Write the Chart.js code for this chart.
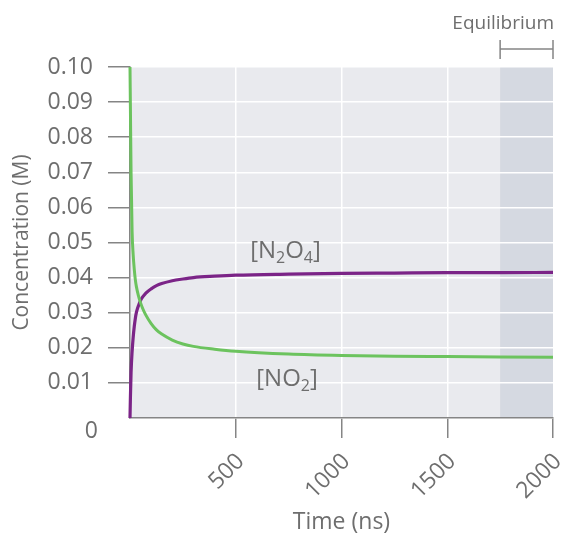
<!DOCTYPE html>
<html>
<head>
<meta charset="utf-8">
<script src="https://cdn.jsdelivr.net/npm/chart.js@4"></script>
<style>
  html, body { margin: 0; padding: 0; background: #fff; }
  #wrap { width: 561px; height: 536px; }
</style>
</head>
<body>
<div id="wrap"><canvas id="conc"></canvas></div>
<script>
// time (ns) and concentrations (M)
const time = [0, 2, 5, 10, 15, 20, 25, 30, 40, 50, 60, 75, 100, 125, 150, 200, 250, 300, 400, 500, 750, 1000, 1250, 1500, 1750, 2000];
const no2 = [0.100, 0.088, 0.070, 0.053, 0.0465, 0.0425, 0.0395, 0.0375, 0.0348, 0.0328, 0.0312, 0.0293, 0.0269, 0.0251, 0.0239, 0.0222, 0.0211, 0.0204, 0.0196, 0.0190, 0.0182, 0.0178, 0.0176, 0.0175, 0.0174, 0.0173];
const n2o4 = [0, 0.006, 0.013, 0.019, 0.023, 0.026, 0.0283, 0.0300, 0.0320, 0.0335, 0.0345, 0.0356, 0.0368, 0.0377, 0.0383, 0.0391, 0.0396, 0.0400, 0.0404, 0.0407, 0.0410, 0.0412, 0.0413, 0.0414, 0.0414, 0.0415];
const xTicks = [500, 1000, 1500, 2000];
const equilibriumStart = 1750;

const FONT = "'Open Sans', sans-serif";
const TEXT = "#6e6e6e";
const AXIS = "#858585";

function pts(ys) {
    return time.map((t, i) => ({ x: t, y: ys[i] }));
}

// subscripted label like [N2O4]
function chemLabel(ctx, parts, x, y) {
    let cx = x;
    parts.forEach(p => {
        ctx.font = p.sub ? "16px " + FONT : "24px " + FONT;
        ctx.fillText(p.t, cx, p.sub ? y + 5 : y);
        cx += ctx.measureText(p.t).width;
    });
}

const decor = {
    id: "decor",
    beforeDraw(chart) {
        const { ctx, chartArea: a, scales: { x } } = chart;
        ctx.save();
        ctx.fillStyle = "#e9eaee";
        ctx.fillRect(a.left, a.top, a.right - a.left, a.bottom - a.top);
        const ex = x.getPixelForValue(equilibriumStart);
        ctx.fillStyle = "#d5d9e1";
        ctx.fillRect(ex, a.top, a.right - ex, a.bottom - a.top);
        ctx.restore();
    },
    afterDraw(chart) {
        const { ctx, chartArea: a, scales: { x, y } } = chart;
        ctx.save();
        // equilibrium bracket
        const ex = x.getPixelForValue(equilibriumStart);
        const by = a.top - 18;
        ctx.strokeStyle = AXIS;
        ctx.lineWidth = 1.5;
        ctx.beginPath();
        ctx.moveTo(ex, by); ctx.lineTo(a.right, by);
        ctx.moveTo(ex, by - 9); ctx.lineTo(ex, by + 10);
        ctx.moveTo(a.right, by - 9); ctx.lineTo(a.right, by + 10);
        ctx.stroke();
        ctx.fillStyle = TEXT;
        ctx.font = "19px " + FONT;
        ctx.textAlign = "right";
        ctx.textBaseline = "middle";
        ctx.fillText("Equilibrium", a.right + 1, a.top - 43);

        // zero label sits below the axis
        ctx.font = "23px " + FONT;
        ctx.fillText("0", 98, y.getPixelForValue(0) + 13);

        // species labels
        ctx.textAlign = "left";
        ctx.textBaseline = "alphabetic";
        chemLabel(ctx, [{ t: "[N" }, { t: "2", sub: true }, { t: "O" }, { t: "4", sub: true }, { t: "]" }],
            x.getPixelForValue(568), y.getPixelForValue(0.0457));
        chemLabel(ctx, [{ t: "[NO" }, { t: "2", sub: true }, { t: "]" }],
            x.getPixelForValue(597), y.getPixelForValue(0.0091));
        ctx.restore();
    }
};

new Chart(document.getElementById("conc"), {
    type: "line",
    data: {
        datasets: [
            {
                label: "[NO2]",
                data: pts(no2),
                borderColor: "#6cc35e",
                borderWidth: 3,
                pointRadius: 0,
                cubicInterpolationMode: "monotone",
                clip: false,
            },
            {
                label: "[N2O4]",
                data: pts(n2o4),
                borderColor: "#7b2487",
                borderWidth: 3.2,
                pointRadius: 0,
                cubicInterpolationMode: "monotone",
                clip: false,
            },
        ],
    },
    options: {
        responsive: true,
        maintainAspectRatio: false,
        animation: false,
        layout: { padding: { top: 67, right: 8, left: 0, bottom: 0 } },
        plugins: { legend: { display: false }, tooltip: { enabled: false } },
        scales: {
            x: {
                type: "linear",
                min: 0,
                max: 2000,
                afterBuildTicks: s => { s.ticks = [0].concat(xTicks).map(v => ({ value: v })); },
                afterFit: s => { s.height = 118; s.paddingRight = 0; s.paddingLeft = 0; },
                border: { color: AXIS, width: 1.5 },
                grid: {
                    color: c => (c.tick && (c.tick.value === 0 || c.tick.value === 2000)) ? "rgba(0,0,0,0)" : "#ffffff",
                    lineWidth: 1.5,
                    tickLength: 20,
                    tickWidth: 1.5,
                    tickColor: c => (c.tick && c.tick.value === 0) ? "rgba(0,0,0,0)" : AXIS,
                },
                ticks: {
                    minRotation: 45,
                    maxRotation: 45,
                    padding: 10,
                    labelOffset: 5,
                    color: TEXT,
                    font: { family: FONT, size: 23 },
                    callback: v => v === 0 ? "" : String(v),
                },
                title: {
                    display: true,
                    text: "Time (ns)",
                    color: TEXT,
                    font: { family: FONT, size: 23 },
                    padding: { top: 0, bottom: 0 },
                },
            },
            y: {
                min: 0,
                max: 0.1,
                afterFit: s => { s.width = 130; },
                border: { color: AXIS, width: 1.5 },
                grid: {
                    color: "#ffffff",
                    lineWidth: 1.5,
                    tickLength: 22,
                    tickWidth: 1.5,
                    tickColor: c => (c.tick && c.tick.value === 0) ? "rgba(0,0,0,0)" : AXIS,
                },
                ticks: {
                    stepSize: 0.01,
                    padding: 15,
                    color: TEXT,
                    font: { family: FONT, size: 23 },
                    callback: v => v === 0 ? "" : v.toFixed(2),
                },
                title: {
                    display: true,
                    text: "Concentration (M)",
                    color: TEXT,
                    font: { family: FONT, size: 21 },
                    padding: { top: 9, bottom: 0 },
                },
            },
        },
    },
    plugins: [decor],
});
</script>
</body>
</html>
